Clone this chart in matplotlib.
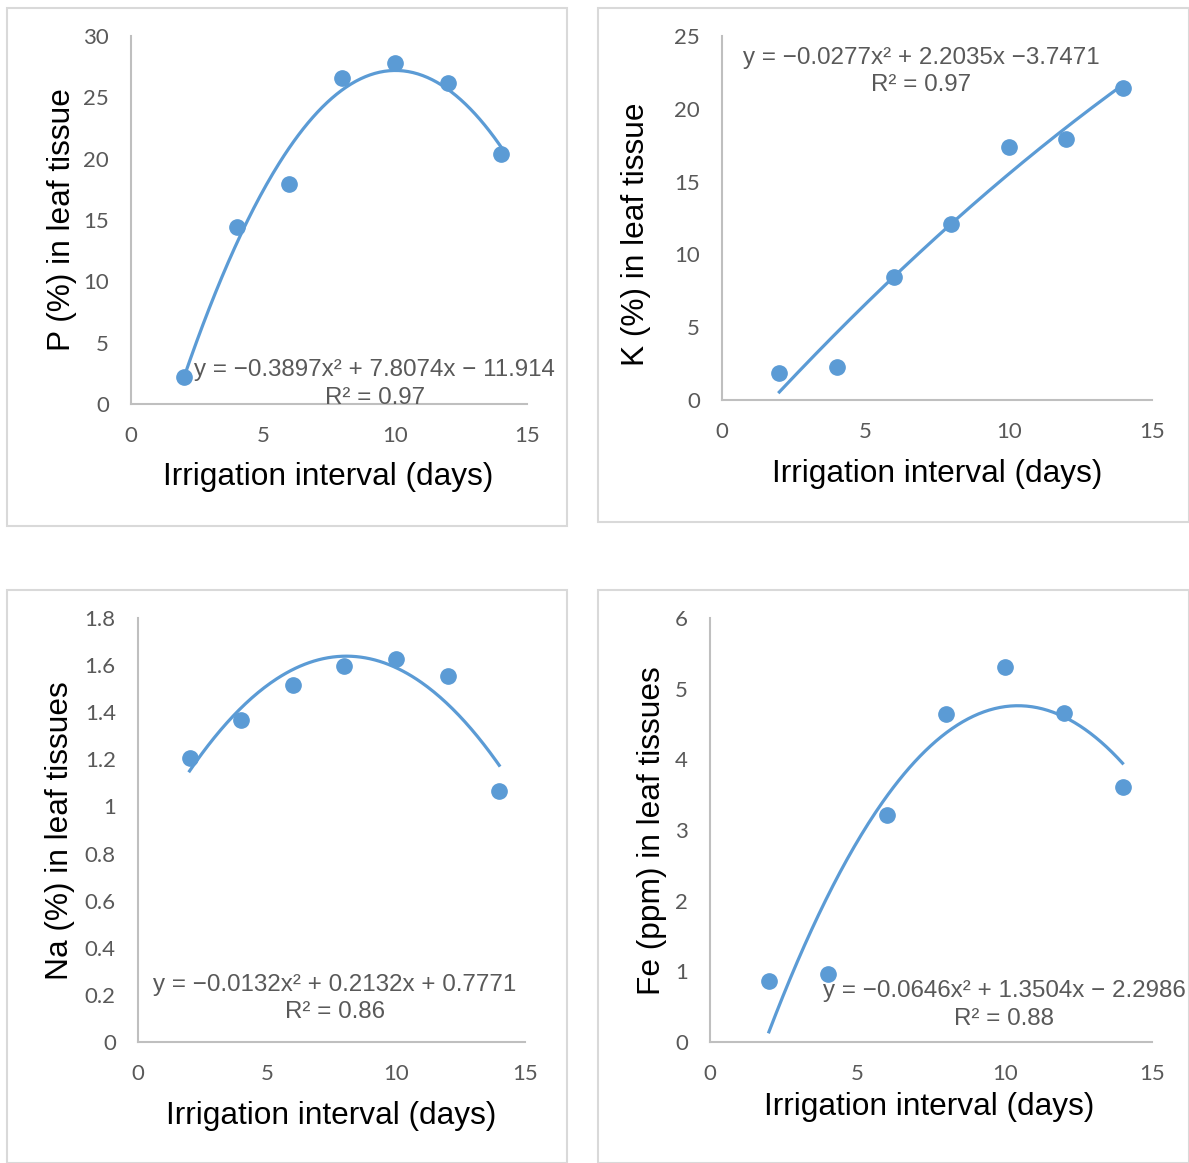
import matplotlib
matplotlib.use("Agg")
import matplotlib.pyplot as plt
from matplotlib.patches import Rectangle
import numpy as np

# irrigation interval (days)
days = [2, 4, 6, 8, 10, 12, 14]

# measured values in leaf tissue
p_vals = [2.2, 14.4, 17.9, 26.6, 27.8, 26.2, 20.4]
k_vals = [1.85, 2.3, 8.45, 12.1, 17.4, 17.9, 21.4]
na_vals = [1.205, 1.367, 1.515, 1.596, 1.626, 1.553, 1.065]
fe_vals = [0.86, 0.96, 3.21, 4.64, 5.31, 4.66, 3.61]

# polynomial trend lines (a*x^2 + b*x + c) and R^2
p_fit = [-0.3897, 7.8074, -11.914]
k_fit = [-0.0277, 2.2035, -3.7471]
na_fit = [-0.0132, 0.2132, 0.7771]
fe_fit = [-0.0646, 1.3504, -2.2986]
r2 = [0.97, 0.97, 0.86, 0.88]

eq_texts = [
    "y = \u22120.3897x\u00b2 + 7.8074x \u2212 11.914",
    "y = \u22120.0277x\u00b2 + 2.2035x \u22123.7471",
    "y = \u22120.0132x\u00b2 + 0.2132x + 0.7771",
    "y = \u22120.0646x\u00b2 + 1.3504x \u2212 2.2986",
]
y_labels = ["P (%) in leaf tissue", "K (%) in leaf tissue",
            "Na (%) in leaf tissues", "Fe (ppm) in leaf tissues"]
x_label = "Irrigation interval (days)"

y_ticks = [[0, 5, 10, 15, 20, 25, 30],
           [0, 5, 10, 15, 20, 25],
           [0, 0.2, 0.4, 0.6, 0.8, 1, 1.2, 1.4, 1.6, 1.8],
           [0, 1, 2, 3, 4, 5, 6]]
x_ticks = [0, 5, 10, 15]

W, H = 1189, 1163
BLUE = "#5B9BD5"
FRAME = "#D9D9D9"
AXIS = "#BFBFBF"
GREY = "#595959"

fig = plt.figure(figsize=(W / 100, H / 100), dpi=100)


def fx(x):
    return x / W


def fy(y):
    return 1 - y / H


# panel layout in pixels: frame box, axes box, label spots
panels = [
    dict(frame=(7, 8, 567, 526), ax=(131, 36, 527, 404),
         eq=(374, 370), r2=(375, 398), xl=(328, 477), yl=(62, 220)),
    dict(frame=(598, 8, 1189, 522), ax=(722, 36, 1152, 400),
         eq=(921, 58), r2=(921, 85), xl=(937, 474), yl=(636, 234)),
    dict(frame=(7, 590, 567, 1163), ax=(138, 618, 525, 1042),
         eq=(335, 985), r2=(335, 1012), xl=(331, 1116), yl=(60, 831)),
    dict(frame=(598, 590, 1189, 1163), ax=(710, 618, 1152, 1042),
         eq=(1004, 991), r2=(1004, 1019), xl=(929, 1107), yl=(652, 831)),
]

series = [p_vals, k_vals, na_vals, fe_vals]
fits = [p_fit, k_fit, na_fit, fe_fit]

for i, pan in enumerate(panels):
    x0, y0, x1, y1 = pan["frame"]
    fig.patches.append(Rectangle((fx(x0), fy(y1)), fx(x1 - x0), (y1 - y0) / H,
                                 transform=fig.transFigure, fill=False,
                                 edgecolor=FRAME, linewidth=1.5))

    l, t, r, b = pan["ax"]
    ax = fig.add_axes([fx(l), fy(b), fx(r - l), (b - t) / H])
    ax.patch.set_alpha(0)

    # trend line
    xs = np.linspace(2, 14, 200)
    a, bb, c = fits[i]
    ax.plot(xs, a * xs ** 2 + bb * xs + c, color=BLUE, linewidth=2.3, zorder=2)
    ax.plot(days, series[i], "o", color=BLUE, markersize=11, zorder=3)

    ax.set_xlim(0, 15)
    ax.set_ylim(y_ticks[i][0], y_ticks[i][-1])
    ax.set_xticks(x_ticks)
    ax.set_yticks(y_ticks[i])
    ax.set_yticklabels(["%g" % v for v in y_ticks[i]])
    ax.tick_params(length=0, labelsize=16, labelcolor=GREY)
    ax.tick_params(axis="x", pad=16)
    ax.tick_params(axis="y", pad=16)
    for lab in ax.get_xticklabels() + ax.get_yticklabels():
        lab.set_family("Lato")

    for side in ["top", "right"]:
        ax.spines[side].set_visible(False)
    for side in ["left", "bottom"]:
        ax.spines[side].set_color(AXIS)
        ax.spines[side].set_linewidth(1.5)

    fig.text(fx(pan["eq"][0]), fy(pan["eq"][1]), eq_texts[i], ha="center",
             va="center", fontsize=17.4, color=GREY, family="Liberation Sans")
    fig.text(fx(pan["r2"][0]), fy(pan["r2"][1]), "R\u00b2 = %.2f" % r2[i],
             ha="center", va="center", fontsize=17.4, color=GREY,
             family="Liberation Sans")
    fig.text(fx(pan["xl"][0]), fy(pan["xl"][1]), x_label, ha="center",
             va="center", fontsize=22.8, color="black", family="Liberation Sans")
    fig.text(fx(pan["yl"][0]), fy(pan["yl"][1]), y_labels[i], ha="center",
             va="center", rotation=90, fontsize=22.8, color="black",
             family="Liberation Sans")

fig.savefig("out.png", dpi=100)
